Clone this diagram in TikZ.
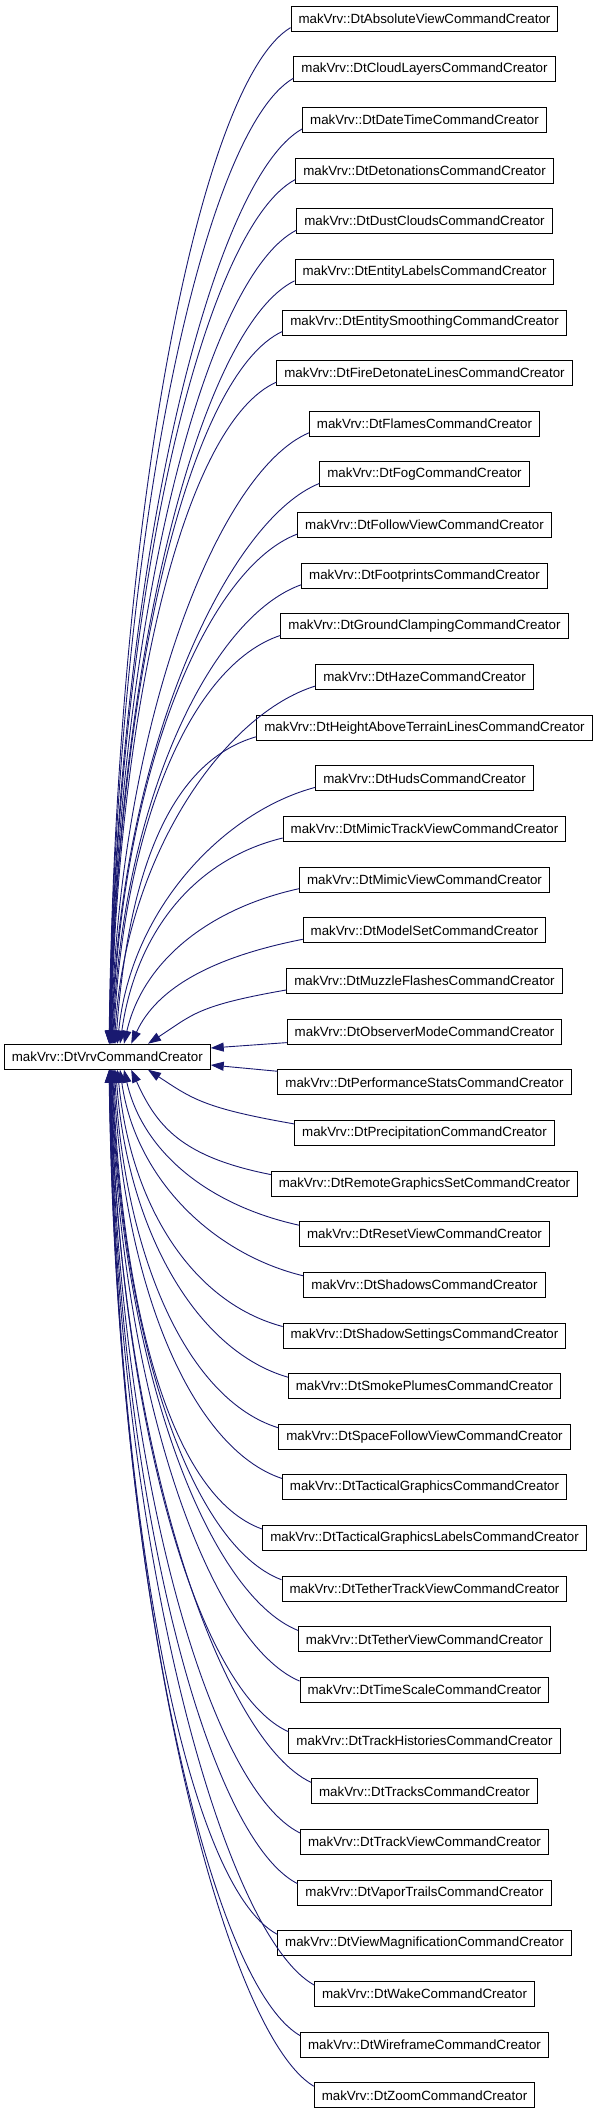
\documentclass[tikz,border=0pt]{standalone}
\usepackage{fontspec}
\setmainfont{Liberation Sans}
\usetikzlibrary{arrows.meta}

\definecolor{edgeblue}{HTML}{191970}

\tikzset{
    classbox/.style={draw=black, line width=1pt, fill=white, inner xsep=7.5pt,
        inner ysep=0pt, minimum height=25pt, font=\fontsize{13.33}{16}\selectfont},
    inherit/.style={edgeblue, line width=0.9pt, -{Triangle[length=13pt,width=9pt]}}
}

\begin{document}
\begin{tikzpicture}[x=1pt, y=-1pt]

    % Layout
    \def\childx{424.5}
    \def\firsty{18.6}
    \def\dy{50.65}
    \useasboundingbox (0,0) rectangle (595,2115);

    % Base class
    \node[classbox] (base) at (107.3,1056.7) {makVrv::DtVrvCommandCreator};

    % Derived classes
    \foreach \cls [count=\i from 0] in {AbsoluteView, CloudLayers, DateTime, Detonations,
        DustClouds, EntityLabels, EntitySmoothing, FireDetonateLines, Flames, Fog,
        FollowView, Footprints, GroundClamping, Haze, HeightAboveTerrainLines, Huds,
        MimicTrackView, MimicView, ModelSet, MuzzleFlashes, ObserverMode,
        PerformanceStats, Precipitation, RemoteGraphicsSet, ResetView, Shadows,
        ShadowSettings, SmokePlumes, SpaceFollowView, TacticalGraphics,
        TacticalGraphicsLabels, TetherTrackView, TetherView, TimeScale,
        TrackHistories, Tracks, TrackView, VaporTrails, ViewMagnification, Wake,
        Wireframe, Zoom}
        \node[classbox] (c\i) at (\childx, \firsty+\i*\dy) {makVrv::Dt\cls CommandCreator};

    % Edges from the classes above the base
    \foreach \i in {0,...,19} {
        \pgfmathsetmacro\dd{20.5-\i}
        \pgfmathsetmacro\vd{1044-(\firsty+\i*\dy+8.5)}
        \pgfmathsetmacro\xe{-1.3+63/\dd}
        \pgfmathsetmacro\bx{13.5+0.04*\vd}
        \pgfmathsetmacro\cx{5+2160/\vd}
        \pgfmathsetmacro\ex{0.53*\vd}
        \draw[inherit] ([yshift=4pt]c\i.south west) .. controls +(-90,\bx) and +(\cx,-\ex) .. ([xshift=\xe pt]base.north);
    }

    % Edges from the classes below the base
    \foreach \i in {22,...,41} {
        \pgfmathsetmacro\dd{\i-20.5}
        \pgfmathsetmacro\vd{(\firsty+\i*\dy-8.5)-1069.3}
        \pgfmathsetmacro\xe{-1.3+63/\dd}
        \pgfmathsetmacro\bx{13.5+0.04*\vd}
        \pgfmathsetmacro\cx{5+2160/\vd}
        \pgfmathsetmacro\ex{0.53*\vd}
        \draw[inherit] ([yshift=-4pt]c\i.north west) .. controls +(-90,-\bx) and +(\cx,\ex) .. ([xshift=\xe pt]base.south);
    }

    % Nearest two
    \draw[inherit] ([yshift=2pt]c20.south west) -- ([yshift=8.7pt]base.east);
    \draw[inherit] ([yshift=-2pt]c21.north west) -- ([yshift=-8.3pt]base.east);

\end{tikzpicture}
\end{document}
